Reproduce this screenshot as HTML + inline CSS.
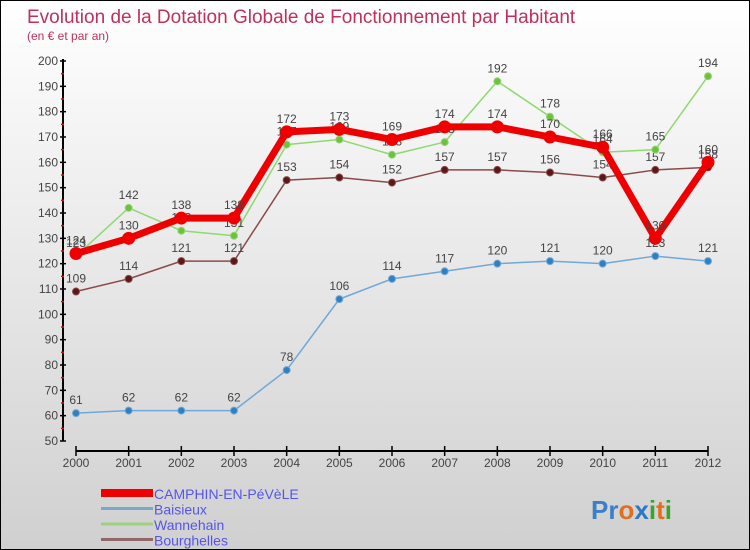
<!DOCTYPE html>
<html><head><meta charset="utf-8"><style>
body{margin:0}
#c{width:750px;height:550px;position:relative;background:linear-gradient(#ffffff,#d0d0d0);box-sizing:border-box;border:1px solid #000;font-family:"Liberation Sans",sans-serif;overflow:hidden}
</style></head><body>
<div id="c">
<svg id="s" width="750" height="550" style="position:absolute;left:0;top:0">
<text x="26" y="22" font-size="19" fill="#c0305a">Evolution de la Dotation Globale de Fonctionnement par Habitant</text>
<text x="26" y="39" font-size="12" fill="#c0305a">(en € et par an)</text>
<g id="g"></g>
<text x="590" y="518" font-size="26" font-weight="bold"><tspan fill="#3a7fc8">Pr</tspan><tspan fill="#e07020">o</tspan><tspan fill="#2a78c8">x</tspan><tspan fill="#40a030">i</tspan><tspan fill="#e07020">t</tspan><tspan fill="#40a030">i</tspan></text>
</svg>
</div>
<script>
const years=[2000,2001,2002,2003,2004,2005,2006,2007,2008,2009,2010,2011,2012];
const camphin=[124,130,138,138,172,173,169,174,174,170,166,130,160];
const baisieux=[61,62,62,62,78,106,114,117,120,121,120,123,121];
const wannehain=[123,142,133,131,167,169,163,168,192,178,164,165,194];
const bourghelles=[109,114,121,121,153,154,152,157,157,156,154,157,158];
const yTicks=[50,60,70,80,90,100,110,120,130,140,150,160,170,180,190,200];
const NS="http://www.w3.org/2000/svg";
const g=document.getElementById('g');
const X=i=>75+i*(632/12);
const Y=v=>440-(v-50)*(380/150);
function el(t,a){const e=document.createElementNS(NS,t);for(const k in a)e.setAttribute(k,a[k]);g.appendChild(e);return e;}
let e=el('line',{x1:62,y1:58,x2:62,y2:440,stroke:'#000','stroke-width':2});


e=el('line',{x1:75,y1:450,x2:707,y2:450,stroke:'#000','stroke-width':2});


yTicks.forEach(v=>{
 let t=el('line',{x1:59,y1:Y(v),x2:65,y2:Y(v),stroke:'#000','stroke-width':1.5});
 
 
 if(v<200){let m=el('line',{x1:60,y1:Y(v+5),x2:63,y2:Y(v+5),stroke:'#f00','stroke-width':1.5});
 
 }
 let l=el('text',{x:57,y:Y(v)+4,'font-size':12,fill:'#444','text-anchor':'end'});l.textContent=v;
 
 
});
years.forEach((y,i)=>{
 let t=el('line',{x1:X(i),y1:445,x2:X(i),y2:455,stroke:'#000','stroke-width':1.5});
 
 
 let l=el('text',{x:X(i),y:466,'font-size':12,fill:'#444','text-anchor':'middle'});l.textContent=y;
 
 
});
function series(data,name,color,dot,lw,r){
 const p=el('polyline',{points:data.map((v,i)=>X(i)+','+Y(v)).join(' '),fill:'none',stroke:color,'stroke-width':lw,'stroke-linejoin':'round'});
 
 
 data.forEach((v,i)=>{
  const c=el('circle',{cx:X(i),cy:Y(v),r:r,fill:dot,stroke:color,'stroke-width':1});
  
  
  const t=el('text',{x:X(i),y:Y(v)-9,'font-size':12,fill:'#444','text-anchor':'middle'});t.textContent=v;
  
  
 });
}
series(baisieux,'baisieux','#70a8d8','#3080c0',1.5,3.5);
series(bourghelles,'bourghelles','#8a4a4a','#5a1818',1.5,3.5);
series(wannehain,'wannehain','#90d870','#70c040',1.5,3.5);
series(camphin,'camphin','#ee0000','#ee0000',7,6);
const names=['CAMPHIN-EN-PéVèLE','Baisieux','Wannehain','Bourghelles'];
const cols=['#ee0000','#7aa8c8','#9ed080','#906868'];
names.forEach((n,i)=>{
 const yy=492+i*15.5;
 const l=el('line',{x1:100,y1:yy,x2:152,y2:yy,stroke:cols[i],'stroke-width':i==0?8:3});
 
 
 const t=el('text',{x:153,y:yy+6,'font-size':14,fill:'#5555ee'});t.textContent=n;
 
 
});
</script>
</body></html>
